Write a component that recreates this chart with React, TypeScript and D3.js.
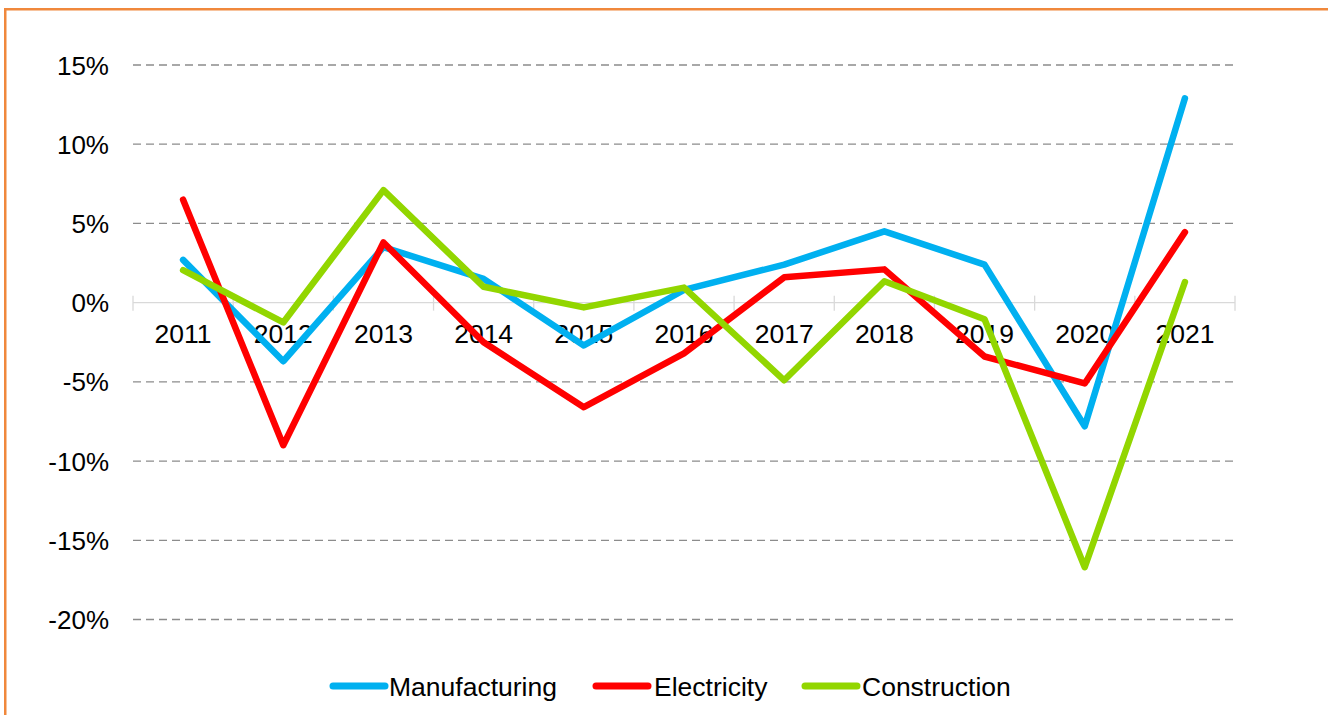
import React from "react";
import * as d3 from "d3";

const years = ["2011","2012","2013","2014","2015","2016","2017","2018","2019","2020","2021"];
const manufacturing = [2.7, -3.7, 3.5, 1.5, -2.7, 0.8, 2.4, 4.5, 2.4, -7.8, 12.9];
const electricity = [6.5, -9.0, 3.8, -2.5, -6.6, -3.2, 1.6, 2.1, -3.4, -5.1, 4.45];
const construction = [2.05, -1.25, 7.1, 1.0, -0.3, 0.95, -4.9, 1.35, -1.05, -16.7, 1.3];
const yTicks = [15, 10, 5, 0, -5, -10, -15, -20];

const seriesList = [
  { name: "Manufacturing", values: manufacturing, color: "#00B0F0" },
  { name: "Electricity", values: electricity, color: "#FF0000" },
  { name: "Construction", values: construction, color: "#92D600" },
];

export default function App() {
  const W = 1328, H = 715;
  const left = 133, right = 1235;
  const x = d3.scaleBand<string>().domain(years).range([left, right]);
  const y = d3.scaleLinear().domain([-20, 15]).range([619.5, 65]);
  const line = d3.line<number>()
    .x((_, i) => (x(years[i]) as number) + x.bandwidth() / 2)
    .y((d) => y(d));
  const font = "'Liberation Sans', Arial, sans-serif";
  const boundaries = years.map((yr) => x(yr) as number).concat([right]);
  const legendItems = [
    { lx: 333, tx: 389 },
    { lx: 596, tx: 654 },
    { lx: 805, tx: 862 },
  ];
  return (
    <svg width={W} height={H} style={{ position: "absolute", left: 0, top: 0, background: "#fff" }}>
      <rect x={0} y={0} width={W} height={H} fill="#fff" />
      <line x1={5.25} y1={9} x2={5.25} y2={H} stroke="#F0883C" strokeWidth={2.5} />
      <line x1={4} y1={9.25} x2={W} y2={9.25} stroke="#F0883C" strokeWidth={2.5} />
      {yTicks.filter((t) => t !== 0).map((t) => (
        <line key={t} x1={left} x2={right} y1={y(t)} y2={y(t)} stroke="#8c8c8c" strokeWidth={1.3} strokeDasharray="8,5" />
      ))}
      <line x1={left} x2={right} y1={y(0)} y2={y(0)} stroke="#D9D9D9" strokeWidth={1.3} />
      {boundaries.map((bx, i) => (
        <line key={i} x1={bx} x2={bx} y1={y(0) - 7} y2={y(0) + 8} stroke="#D9D9D9" strokeWidth={1.3} />
      ))}
      {yTicks.map((t) => (
        <text key={t} x={109} y={y(t) + 9.5} textAnchor="end" fontFamily={font} fontSize={26} fill="#000">
          {t + "%"}
        </text>
      ))}
      {years.map((yr) => (
        <text key={yr} x={(x(yr) as number) + x.bandwidth() / 2} y={343} textAnchor="middle" fontFamily={font} fontSize={26.5} fill="#000">
          {yr}
        </text>
      ))}
      {seriesList.map((s) => (
        <path key={s.name} d={line(s.values) || ""} fill="none" stroke={s.color} strokeWidth={6.5} strokeLinejoin="round" strokeLinecap="round" />
      ))}
      {seriesList.map((s, i) => (
        <g key={s.name}>
          <line x1={legendItems[i].lx} x2={legendItems[i].lx + 52} y1={686} y2={686} stroke={s.color} strokeWidth={7} strokeLinecap="round" />
          <text x={legendItems[i].tx} y={695.5} fontFamily={font} fontSize={26.5} fill="#000">{s.name}</text>
        </g>
      ))}
    </svg>
  );
}
